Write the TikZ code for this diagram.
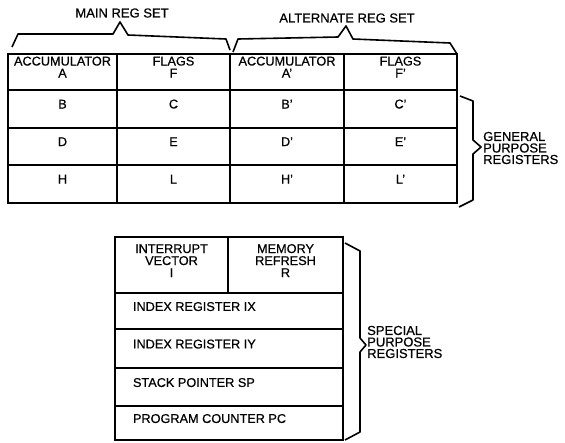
\documentclass[tikz,border=0pt]{standalone}
\usepackage{fontspec}
\setmainfont[FakeBold=0.6]{Liberation Sans}
\usetikzlibrary{fit}
\begin{document}
\begin{tikzpicture}[x=1pt,y=-1pt,
 cell/.style={draw, line width=2pt, inner sep=0pt, align=center, font=\fontsize{12.7}{12}\selectfont},
 rowcell/.style={cell},
 brc/.style={line width=1.6pt, line join=round},
 lbl/.style={inner sep=0pt, font=\fontsize{13}{11.5}\selectfont, align=left}]
\useasboundingbox (0,0) rectangle (565,442);
\fill[white] (0,0) rectangle (565,442);
% general purpose registers
\node[cell, fit={(8,53.5)(117,89.5)}] (acc) {ACCUMULATOR\\A};
\node[cell, fit={(117,53.5)(230,89.5)}] (flg) {FLAGS\\F};
\node[cell, fit={(230,53.5)(344,89.5)}] (acc2) {ACCUMULATOR\\A'};
\node[cell, fit={(344,53.5)(457,89.5)}] (flg2) {FLAGS\\F'};
\node[cell, fit={(8,89.5)(117,127.5)}] (b) {B};
\node[cell, fit={(117,89.5)(230,127.5)}] (c) {C};
\node[cell, fit={(230,89.5)(344,127.5)}] (b2) {B'};
\node[cell, fit={(344,89.5)(457,127.5)}] (c2) {C'};
\node[cell, fit={(8,127.5)(117,164.5)}] (d) {D};
\node[cell, fit={(117,127.5)(230,164.5)}] (e) {E};
\node[cell, fit={(230,127.5)(344,164.5)}] (d2) {D'};
\node[cell, fit={(344,127.5)(457,164.5)}] (e2) {E'};
\node[cell, fit={(8,164.5)(117,202.5)}] (h) {H};
\node[cell, fit={(117,164.5)(230,202.5)}] (l) {L};
\node[cell, fit={(230,164.5)(344,202.5)}] (h2) {H'};
\node[cell, fit={(344,164.5)(457,202.5)}] (l2) {L'};
% special purpose registers
\node[cell, fit={(115,237)(228,293)}] (iv) {INTERRUPT\\VECTOR\\I};
\node[cell, fit={(228,237)(343,293)}] (mr) {MEMORY\\REFRESH\\R};
\node[rowcell, fit={(115,293)(343,329)}] (ix) {\makebox[192pt][l]{INDEX REGISTER IX}};
\node[rowcell, fit={(115,329)(343,368)}] (iy) {\makebox[192pt][l]{INDEX REGISTER IY}};
\node[rowcell, fit={(115,368)(343,406)}] (sp) {\makebox[192pt][l]{STACK POINTER SP}};
\node[rowcell, fit={(115,406)(343,440)}] (pc) {\makebox[192pt][l]{PROGRAM COUNTER PC}};
% braces
\draw[brc] (12,47) -- (18,34) -- (113,34) -- (120,22) -- (128,35) -- (226,39) -- (230,50);
\draw[brc] (233,52) -- (238,39) -- (338,37) -- (346,26) -- (353,39) -- (450,43) -- (457,54);
\draw[brc] (460,96) -- (473,101) -- (473,140) -- (481,147) -- (473,154) -- (473,200) -- (459,207);
\draw[brc] (345,243) -- (360,251) -- (360,338) -- (366,345) -- (360,352) -- (360,432) -- (345,440);
% labels
\node[lbl] (main) at (122,13) {MAIN REG SET};
\node[lbl] (alt) at (347,18) {ALTERNATE REG SET};
\node[lbl, anchor=west] (gpr) at (483,148) {GENERAL\\PURPOSE\\REGISTERS};
\node[lbl, anchor=west] (spr) at (367,342) {SPECIAL\\PURPOSE\\REGISTERS};
\end{tikzpicture}
\end{document}
